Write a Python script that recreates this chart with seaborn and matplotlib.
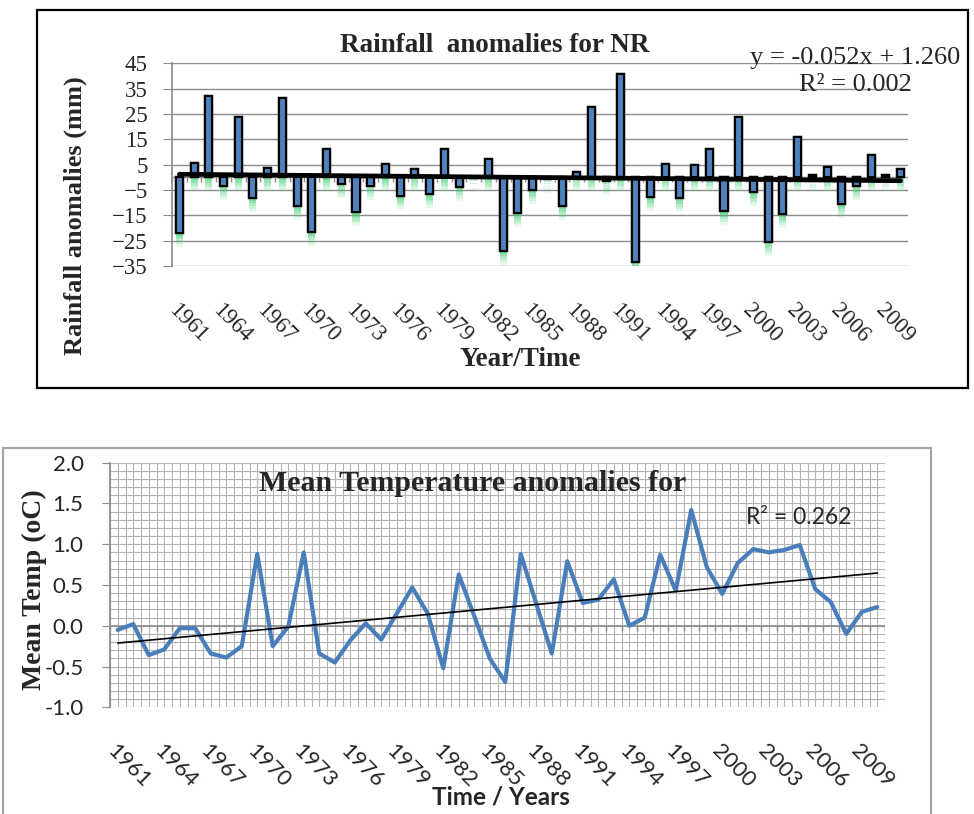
import numpy as np
import pandas as pd
import matplotlib
matplotlib.use("Agg")
import matplotlib.pyplot as plt
import matplotlib.patheffects as pe
from matplotlib.patches import Rectangle
from matplotlib.ticker import MultipleLocator
import seaborn as sns

years = list(range(1961, 2011))
rain_anom = [-21.9, 5.8, 32.1, -3.4, 23.9, -8.1, 3.6, 31.2, -11.3, -21.5,
             11.0, -2.8, -13.8, -3.3, 5.4, -7.4, 3.4, -6.6, 11.2, -3.7,
             -0.3, 7.3, -29.0, -14.2, -5.0, -0.6, -11.3, 2.1, 27.7, -1.6,
             40.6, -33.3, -7.9, 5.4, -8.3, 4.7, 11.3, -13.3, 23.9, -5.9,
             -25.4, -14.5, 16.0, 0.8, 4.1, -10.5, -3.6, 8.8, 0.9, 3.2]
temp_anom = [-0.05, 0.02, -0.36, -0.29, -0.03, -0.03, -0.34, -0.39, -0.25, 0.88,
             -0.25, -0.01, 0.90, -0.34, -0.45, -0.18, 0.03, -0.17, 0.15, 0.47,
             0.15, -0.52, 0.63, 0.12, -0.40, -0.69, 0.88, 0.27, -0.34, 0.79,
             0.28, 0.32, 0.57, 0.00, 0.10, 0.87, 0.43, 1.42, 0.72, 0.39,
             0.77, 0.94, 0.90, 0.93, 0.99, 0.45, 0.29, -0.10, 0.17, 0.23]
label_years = years[::3]
rain_slope, rain_intercept, rain_r2 = -0.052, 1.260, 0.002
temp_r2 = 0.262

rain_df = pd.DataFrame({"Year": years, "Rain": rain_anom})
temp_df = pd.DataFrame({"Year": years, "Temp": temp_anom})

sns.set_theme(style="white")
serif = ["Liberation Serif", "DejaVu Serif"]
sans = ["Lato", "DejaVu Sans"]
plt.rcParams["font.family"] = serif

fig = plt.figure(figsize=(9.74, 8.14), dpi=100)
W, H = 974, 814

def box(x0, y0, x1, y1):
    # pixel box (top-left origin) -> figure fraction
    return [x0 / W, 1 - y1 / H, (x1 - x0) / W, (y1 - y0) / H]

# outer frames
fig.patches.append(Rectangle((37 / W, 1 - 388 / H), 931 / W, 378 / H, transform=fig.transFigure,
                             fill=False, edgecolor="black", linewidth=1.6))
fig.patches.append(Rectangle((3 / W, -0.01), 928 / W, 1 - 448 / H + 0.01, transform=fig.transFigure,
                             fill=False, edgecolor="#a6a6a6", linewidth=1.6))

# ---------------- rainfall ----------------
ax1 = fig.add_axes(box(172, 63.3, 908, 266))
sns.barplot(data=rain_df, x="Year", y="Rain", native_scale=True, color="#4F81BD", saturation=1,
            width=0.48, edgecolor="black", linewidth=1.5, ax=ax1, zorder=3)
glow = []
for off, a in [(-10, 0.12), (-8, 0.15), (-6, 0.2), (-4, 0.25), (-2, 0.3)]:
    glow.append(pe.withSimplePatchShadow(offset=(0, off), shadow_rgbFace="#3ccf6e", alpha=a))
for p in ax1.patches:
    p.set_path_effects(glow + [pe.Normal()])
ax1.set_xlim(years[0] - 0.5, years[-1] + 0.5)
ax1.set_ylim(-35, 45)
ax1.set_yticks(np.arange(-35, 46, 10))
ax1.yaxis.grid(True, color="#8c8c8c", linewidth=1.0)
ax1.set_axisbelow(True)
ax1.axhline(0, color="#8c8c8c", linewidth=1.0, zorder=2)
bounds = np.arange(years[0] - 0.5, years[-1] + 0.6, 1)
ax1.vlines(bounds, -2.0, 0, color="#8c8c8c", linewidth=1.0, zorder=2)
trend_x = np.arange(1, len(years) + 1)
ax1.plot(years, rain_slope * trend_x + rain_intercept, color="black", linewidth=3.4, zorder=4)
for s in ["top", "right", "bottom"]:
    ax1.spines[s].set_visible(False)
ax1.spines["left"].set_color("#8c8c8c")
ax1.tick_params(axis="y", left=True, direction="out", length=6.5, width=0.8, color="#8c8c8c",
                pad=11, labelsize=16.5)
ax1.set_xticks(label_years)
ax1.set_xticklabels(label_years, rotation=-45, ha="left", va="top", rotation_mode="anchor", fontsize=16.5)
ax1.tick_params(axis="x", bottom=False, length=0, pad=24)
ax1.set_xlabel("")
ax1.set_ylabel("")
ax1.text(0.473, -0.40, "Year/Time", transform=ax1.transAxes, ha="center", va="top",
         fontsize=19.5, fontweight="bold")
ax1.text(-0.132, 0.247, "Rainfall anomalies (mm)", transform=ax1.transAxes, ha="center",
         va="center", rotation=90, fontsize=19, fontweight="bold")
ax1.text(0.439, 1.09, "Rainfall  anomalies for NR", transform=ax1.transAxes, ha="center",
         va="center", fontsize=19.5, fontweight="bold")
ax1.text(0.928, 1.026, f"y = {rain_slope:.3f}x + {rain_intercept:.3f}", transform=ax1.transAxes,
         ha="center", va="center", fontsize=19, clip_on=False)
ax1.text(0.928, 0.893, f"R² = {rain_r2:.3f}", transform=ax1.transAxes,
         ha="center", va="center", fontsize=19, clip_on=False)

# ---------------- temperature ----------------
ax2 = fig.add_axes(box(110, 462.7, 885, 707.3))
ax2.set_xlim(years[0] - 0.5, years[-1] + 0.5)
ax2.set_ylim(-1.0, 2.0)
ax2.xaxis.set_minor_locator(MultipleLocator(0.5))
ax2.yaxis.set_major_locator(MultipleLocator(0.5))
ax2.yaxis.set_minor_locator(MultipleLocator(0.1))
ax2.grid(True, which="both", color="#b4b4b4", linewidth=0.8)
ax2.set_axisbelow(True)
ax2.axhline(0, color="#8c8c8c", linewidth=1.2, zorder=2)
ax2.vlines(bounds, -0.07, 0, color="#8c8c8c", linewidth=1.0, zorder=2)
sns.lineplot(data=temp_df, x="Year", y="Temp", color="#4A7EBB", linewidth=3.0, ax=ax2, zorder=3)
ax2.lines[-1].set_solid_joinstyle("round")
k, b = np.polyfit(np.arange(1, len(years) + 1), temp_anom, 1)
ax2.plot(years, k * np.arange(1, len(years) + 1) + b, color="black", linewidth=1.2, zorder=4)
for s in ["top", "right", "bottom"]:
    ax2.spines[s].set_visible(False)
ax2.spines["left"].set_color("#8c8c8c")
ax2.set_yticks(np.arange(-1.0, 2.01, 0.5))
ax2.set_yticklabels([f"{v:.1f}" for v in np.arange(-1.0, 2.01, 0.5)], family=sans)
ax2.tick_params(axis="y", which="major", left=True, direction="out", length=6, width=0.8,
                color="#8c8c8c", pad=13, labelsize=16)
ax2.tick_params(axis="y", which="minor", left=False)
ax2.set_xticks(label_years)
ax2.set_xticklabels(label_years, rotation=-45, ha="left", va="top", rotation_mode="anchor",
                    fontsize=16, family=sans)
ax2.tick_params(axis="x", which="both", bottom=False, length=0, pad=24)
ax2.set_xlabel("")
ax2.set_ylabel("")
ax2.text(0.505, -0.32, "Time / Years", transform=ax2.transAxes, ha="center", va="top",
         fontsize=17.5, fontweight="bold", family=sans)
ax2.text(-0.097, 0.48, "Mean Temp (oC)", transform=ax2.transAxes, ha="center", va="center",
         rotation=90, fontsize=20, fontweight="bold")
ax2.text(0.468, 0.913, "Mean Temperature anomalies for", transform=ax2.transAxes, ha="center",
         va="center", fontsize=21.5, fontweight="bold")
ax2.text(0.889, 0.778, f"R² = {temp_r2:.3f}", transform=ax2.transAxes, ha="center",
         va="center", fontsize=16.5, family=sans)

fig.savefig("out.png", dpi=100)
